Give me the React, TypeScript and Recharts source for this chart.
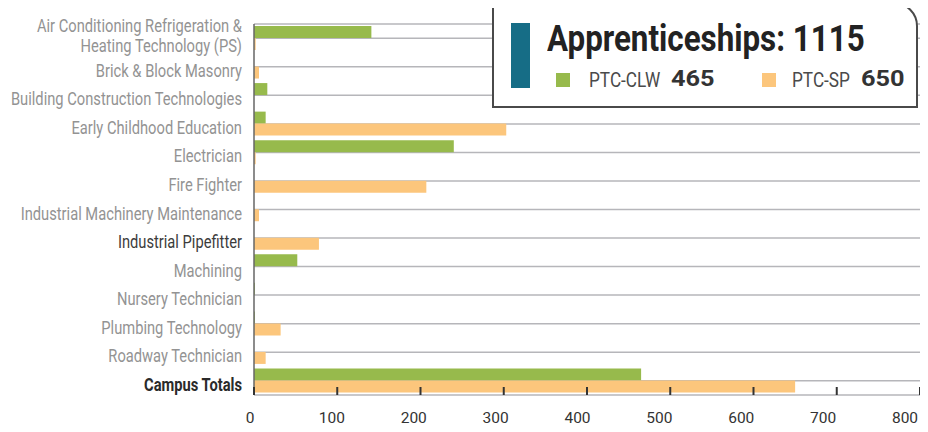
import { Bar, BarChart, CartesianGrid, XAxis, YAxis } from "recharts";

const categories = [
  "Air Conditioning Refrigeration &\nHeating Technology (PS)",
  "Brick & Block Masonry",
  "Building Construction Technologies",
  "Early Childhood Education",
  "Electrician",
  "Fire Fighter",
  "Industrial Machinery Maintenance",
  "Industrial Pipefitter",
  "Machining",
  "Nursery Technician",
  "Plumbing Technology",
  "Roadway Technician",
  "Campus Totals",
];
const clwValues = [141, 0, 16, 14, 240, 0, 0, 0, 52, 1, 1, 0, 465];
const spValues = [2, 6, 0, 303, 2, 207, 6, 78, 0, 0, 32, 14, 650];
const xTicks = [0, 100, 200, 300, 400, 500, 600, 700, 800];

const GREEN = "#97ba4c";
const ORANGE = "#fcc67c";
const TEAL = "#166d86";
const FONT = 'Roboto, "Liberation Sans", sans-serif';
// reference uses a condensed face; squeeze Roboto horizontally instead
const SQUEEZE = 0.84;

const DARK_LABELS = ["Industrial Pipefitter"];
const BOLD_LABELS = ["Campus Totals"];

const data = categories.map((name, i) => ({ name, clw: clwValues[i], sp: spValues[i] }));
const clwTotal = clwValues[clwValues.length - 1];
const spTotal = spValues[spValues.length - 1];

function CategoryTick({ x, y, payload }: any) {
  const lines = String(payload.value).split("\n");
  const bold = BOLD_LABELS.includes(payload.value);
  const dark = DARK_LABELS.includes(payload.value);
  const first = 10 - (lines.length - 1) * 16;
  return (
    <g transform={`translate(${x},${y}) scale(${SQUEEZE},1)`}>
      <text
        x={0}
        y={0}
        textAnchor="end"
        fontFamily={FONT}
        fontSize={17.5}
        fontWeight={bold ? 700 : 400}
        fill={bold ? "#2a2a2a" : dark ? "#3c3c3c" : "#939393"}
      >
        {lines.map((line, i) => (
          <tspan key={i} x={0} dy={i === 0 ? first : 20}>
            {line}
          </tspan>
        ))}
      </text>
    </g>
  );
}

function ValueTick({ x, y, payload }: any) {
  const shift = -(4 + (11 * payload.value) / 800);
  return (
    <g>
      <line x1={x} x2={x} y1={y - 8} y2={y} stroke="#333" strokeWidth={2} />
      <text x={x + shift} y={y + 28} textAnchor="middle" fontFamily={FONT} fontSize={15.5} fill="#333">
        {payload.value}
      </text>
    </g>
  );
}

function LegendBox() {
  const row = {
    position: "absolute" as const,
    whiteSpace: "nowrap" as const,
    fontFamily: FONT,
    transformOrigin: "0 0",
  };
  const label = { ...row, top: 66, fontSize: 20, lineHeight: "20px", color: "#4a4a4a", transform: "scaleX(0.86)" };
  const num = { ...row, top: 64, fontSize: 22, lineHeight: "22px", fontWeight: 700, color: "#333", transform: "scaleX(1.15)" };
  const square = { position: "absolute" as const, top: 69, width: 14, height: 14 };
  return (
    <div
      style={{
        position: "absolute",
        left: 492,
        top: 2,
        zIndex: 5,
        width: 426,
        height: 106,
        boxSizing: "border-box",
        borderTop: "2px solid #4a4a4a",
        borderRight: "2px solid #4a4a4a",
        borderBottom: "2px solid #4a4a4a",
        borderLeft: "2px solid #4a4a4a",
        borderTopRightRadius: 24,
        background: "#fff",
      }}
    >
      <div style={{ position: "absolute", left: 17, top: 19, width: 19, height: 65, background: TEAL }} />
      <div
        style={{
          ...row,
          left: 53,
          top: 17,
          fontSize: 36,
          lineHeight: "36px",
          fontWeight: 700,
          color: "#222",
          transform: "scaleX(0.87)",
        }}
      >
        Apprenticeships: {clwTotal + spTotal}
      </div>
      <div style={{ ...square, left: 62, background: GREEN }} />
      <div style={{ ...label, left: 95 }}>PTC-CLW</div>
      <div style={{ ...num, left: 177 }}>{clwTotal}</div>
      <div style={{ ...square, left: 268, background: ORANGE }} />
      <div style={{ ...label, left: 298 }}>PTC-SP</div>
      <div style={{ ...num, left: 367 }}>{spTotal}</div>
    </div>
  );
}

export default function App() {
  // cancel the body margin so chart coordinates match the page
  return (
    <div style={{ position: "relative", left: -8, top: -8, width: 928, height: 432 }}>
      <BarChart
        width={928}
        height={432}
        data={data}
        layout="vertical"
        margin={{ top: 24, right: 8, left: 0, bottom: 0 }}
        barSize={12}
        barGap={0}
      >
        <CartesianGrid vertical={false} stroke="#b6b6ba" strokeWidth={1.5} />
        <XAxis
          type="number"
          domain={[0, 800]}
          ticks={xTicks}
          interval={0}
          axisLine={false}
          tickLine={false}
          tickSize={0}
          tickMargin={0}
          height={37}
          tick={<ValueTick />}
        />
        <YAxis
          type="category"
          dataKey="name"
          width={254}
          interval={0}
          axisLine={{ stroke: "#666", strokeWidth: 1.5 }}
          tickLine={false}
          tickSize={0}
          tickMargin={12}
          tick={<CategoryTick />}
        />
        <Bar dataKey="clw" name="PTC-CLW" fill={GREEN} isAnimationActive={false} />
        <Bar dataKey="sp" name="PTC-SP" fill={ORANGE} isAnimationActive={false} />
      </BarChart>
      <LegendBox />
    </div>
  );
}
